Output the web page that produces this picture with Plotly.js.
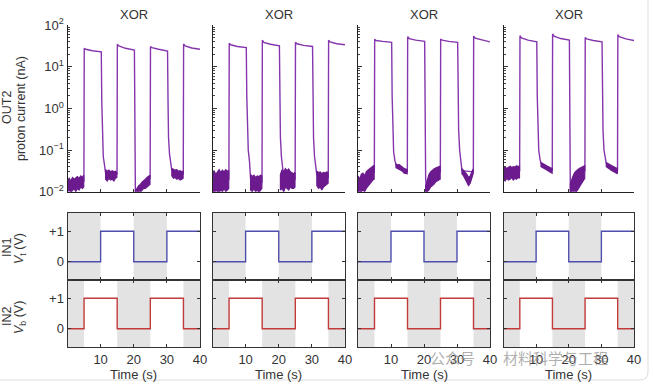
<!DOCTYPE html>
<html><head><meta charset="utf-8">
<script src="https://cdn.plot.ly/plotly-3.0.1.min.js"></script>
<style>html,body{margin:0;padding:0;background:#fff}#chart{width:653px;height:384px}</style>
</head><body><div id="chart"></div>
<script>
// ---------------- DATA ----------------
const panelTitles = ['XOR', 'XOR', 'XOR', 'XOR'];

// OUT2 proton current (nA) – main trace, shared time grid (s)
const tMain = [0, 4.95, 5.05, 5.5, 7.5, 10.2, 10.35, 10.5, 10.8, 11.2, 11.5, 14.95, 15.05, 15.5, 17.5,
  20.2, 20.35, 20.5, 20.8, 21.2, 21.5, 24.95, 25.05, 25.5, 27.5, 30.2, 30.35, 30.5, 30.8, 31.2, 31.5,
  34.95, 35.05, 35.5, 37.5, 40];
const out2Col1 = [0.015, 0.018, 28, 26.5, 24.5, 23, 1.5, 0.2, 0.07, 0.042, 0.028, 0.027, 35, 32, 28,
  25.5, 0.05, 0.008, 0.009, 0.010, 0.012, 0.021, 30.6, 29, 26.5, 24, 1.5, 0.2, 0.08, 0.048, 0.032,
  0.027, 35.5, 32, 28.5, 26.5];
const out2Col2 = [0.018, 0.02, 37, 34, 31, 29, 2, 0.3, 0.1, 0.05, 0.02, 0.017, 44, 39, 35,
  32, 1.5, 0.2, 0.07, 0.035, 0.022, 0.02, 39, 36, 33, 31, 1.5, 0.2, 0.07, 0.04, 0.025,
  0.022, 44, 40, 36, 34];
const out2Col3 = [0.015, 0.03, 46, 43, 41, 39, 2, 0.3, 0.09, 0.055, 0.045, 0.03, 53, 48, 44,
  41, 0.3, 0.02, 0.012, 0.015, 0.018, 0.03, 47, 44, 41, 39, 2, 0.3, 0.1, 0.055, 0.032,
  0.03, 55, 49, 44, 40];
const out2Col4 = [0.03, 0.032, 56, 50, 44, 40, 2, 0.3, 0.1, 0.06, 0.048, 0.032, 62, 55, 48,
  44, 0.5, 0.005, 0.012, 0.016, 0.02, 0.032, 51, 47, 43, 40, 2, 0.3, 0.1, 0.06, 0.048,
  0.032, 60, 53, 47, 43];

// Noisy low-state band: upper / lower envelope, shared time grid (null separates segments)
const bandT = [0, 0.5, 1, 1.5, 2, 2.5, 3, 3.5, 4, 4.5, 4.9, null,
  11.5, 12, 12.5, 13, 13.5, 14, 14.5, 14.9, null,
  20.5, 21, 21.5, 22, 22.5, 23, 23.5, 24, 24.5, 24.9, null,
  31.5, 32, 32.5, 33, 33.5, 34, 34.5, 34.9];
const bandHiCol1 = [0.019, 0.021, 0.018, 0.022, 0.020, 0.021, 0.023, 0.021, 0.024, 0.022, 0.025, null,
  0.034, 0.031, 0.033, 0.030, 0.032, 0.030, 0.031, 0.029, null,
  0.011, 0.012, 0.014, 0.015, 0.017, 0.018, 0.020, 0.022, 0.024, 0.025, null,
  0.036, 0.034, 0.033, 0.034, 0.031, 0.032, 0.030, 0.031];
const bandLoCol1 = [0.010, 0.011, 0.0095, 0.011, 0.012, 0.010, 0.012, 0.011, 0.013, 0.012, 0.013, null,
  0.020, 0.018, 0.021, 0.019, 0.020, 0.018, 0.021, 0.022, null,
  0.008, 0.008, 0.009, 0.010, 0.011, 0.012, 0.012, 0.013, 0.014, 0.015, null,
  0.024, 0.021, 0.022, 0.020, 0.021, 0.019, 0.020, 0.021];
const bandHiCol2 = [0.028, 0.032, 0.026, 0.031, 0.034, 0.029, 0.033, 0.030, 0.034, 0.031, 0.032, null,
  0.026, 0.023, 0.025, 0.022, 0.024, 0.023, 0.025, 0.024, null,
  0.026, 0.034, 0.030, 0.036, 0.032, 0.035, 0.030, 0.028, 0.027, 0.029, null,
  0.031, 0.029, 0.030, 0.027, 0.029, 0.028, 0.030, 0.029];
const bandLoCol2 = [0.010, 0.009, 0.011, 0.010, 0.0095, 0.011, 0.010, 0.012, 0.010, 0.011, 0.012, null,
  0.011, 0.010, 0.012, 0.010, 0.011, 0.0095, 0.011, 0.012, null,
  0.011, 0.012, 0.010, 0.013, 0.012, 0.011, 0.013, 0.012, 0.012, 0.013, null,
  0.014, 0.012, 0.013, 0.011, 0.013, 0.014, 0.015, 0.016];
const bandHiCol3 = [0.024, 0.020, 0.026, 0.028, 0.024, 0.030, 0.033, 0.036, 0.038, 0.041, 0.043, null,
  0.047, 0.044, 0.045, 0.041, 0.039, 0.036, 0.035, 0.034, null,
  0.014, 0.020, 0.026, 0.030, 0.033, 0.035, 0.037, 0.039, 0.040, 0.041, null,
  0.036, 0.032, 0.030, 0.026, 0.022, 0.024, 0.030, 0.035];
const bandLoCol3 = [0.010, 0.009, 0.010, 0.011, 0.010, 0.012, 0.013, 0.015, 0.017, 0.019, 0.020, null,
  0.038, 0.036, 0.035, 0.033, 0.031, 0.028, 0.027, 0.027, null,
  0.009, 0.010, 0.011, 0.013, 0.014, 0.015, 0.017, 0.018, 0.019, 0.020, null,
  0.027, 0.024, 0.020, 0.017, 0.014, 0.016, 0.021, 0.027];
const bandHiCol4 = [0.038, 0.040, 0.036, 0.039, 0.041, 0.038, 0.040, 0.039, 0.042, 0.040, 0.041, null,
  0.050, 0.047, 0.045, 0.043, 0.041, 0.039, 0.037, 0.036, null,
  0.016, 0.022, 0.026, 0.030, 0.033, 0.035, 0.037, 0.039, 0.040, 0.042, null,
  0.050, 0.047, 0.045, 0.043, 0.041, 0.039, 0.037, 0.036];
const bandLoCol4 = [0.020, 0.018, 0.021, 0.019, 0.020, 0.022, 0.019, 0.021, 0.020, 0.022, 0.021, null,
  0.040, 0.038, 0.036, 0.034, 0.032, 0.030, 0.029, 0.028, null,
  0.006, 0.007, 0.008, 0.009, 0.010, 0.012, 0.014, 0.017, 0.019, 0.021, null,
  0.040, 0.037, 0.035, 0.033, 0.031, 0.029, 0.028, 0.027];

// Inputs (step, value holds until next time)
const in1T = [0, 10, 20, 30, 40];
const in1V = [0, 1, 0, 1, 1];
const in2T = [0, 5, 15, 25, 35, 40];
const in2V = [0, 1, 0, 1, 0, 0];

// Tick labels
const xTickVals = [10, 20, 30, 40];
const xTickText = ['10', '20', '30', '40'];
const logTickVals = [0.01, 0.1, 1, 10, 100];
const logTickText = ['10<sup>−2</sup>', '10<sup>−1</sup>', '10<sup>0</sup>', '10<sup>1</sup>', '10<sup>2</sup>'];
const stepTickVals = [0, 1];
const stepTickText = ['0', '+1'];

// ---------------- BUILD ----------------
const W = 653, H = 384;
const FONT = 'Liberation Sans, Arial, sans-serif';
const TXT = '#333333';
const FS = 13;
const colsPx = [[67.5, 200], [212.5, 345], [358, 490], [503.5, 634]];
const rowsPx = [[25.3, 191.7], [213, 280], [280, 347]];
const out2 = [out2Col1, out2Col2, out2Col3, out2Col4];
const bandHi = [bandHiCol1, bandHiCol2, bandHiCol3, bandHiCol4];
const bandLo = [bandLoCol1, bandLoCol2, bandLoCol3, bandLoCol4];

const minorLog = [];
for (let k = -2; k < 2; k++) for (let m = 2; m <= 9; m++) minorLog.push(m * Math.pow(10, k));

function bandPolygon(t, hi, lo) {
  const px = [], py = [];
  let seg = [];
  const flush = () => {
    if (!seg.length) return;
    seg.forEach(i => { px.push(t[i]); py.push(hi[i]); });
    seg.slice().reverse().forEach(i => { px.push(t[i]); py.push(lo[i]); });
    px.push(t[seg[0]]); py.push(hi[seg[0]]);
    px.push(null); py.push(null);
    seg = [];
  };
  for (let i = 0; i < t.length; i++) { if (t[i] === null) flush(); else seg.push(i); }
  flush();
  return { x: px, y: py };
}

const traces = [];
const layout = {
  width: W, height: H, margin: { l: 0, r: 0, t: 0, b: 0 },
  paper_bgcolor: '#ffffff', plot_bgcolor: 'rgba(0,0,0,0)',
  showlegend: false, font: { family: FONT, size: FS, color: TXT },
  shapes: [], annotations: []
};

// card border (rounded bottom-right corner)
layout.shapes.push({ type: 'path', xref: 'paper', yref: 'paper', layer: 'below',
  path: `M ${648 / W} 1 L ${648 / W} ${1 - 372 / H} Q ${648 / W} ${1 - 380 / H} ${640 / W} ${1 - 380 / H} L 0 ${1 - 380 / H}`,
  line: { color: '#dddddd', width: 1 } });

for (let row = 0; row < 3; row++) {
  for (let col = 0; col < 4; col++) {
    const n = row * 4 + col + 1;
    const xs = n === 1 ? '' : String(n);
    const xd = [colsPx[col][0] / W, colsPx[col][1] / W];
    const yd = [1 - rowsPx[row][1] / H, 1 - rowsPx[row][0] / H];
    const xa = {
      domain: xd, anchor: 'y' + xs, range: [0, 40], showgrid: false, zeroline: false,
      showline: true, linecolor: row === 0 ? '#222' : '#333', linewidth: 1,
      ticks: 'inside', ticklen: 3, tickcolor: '#333',
      tickmode: 'array', tickvals: row === 0 ? [10, 20, 30] : xTickVals, ticktext: row === 0 ? ['10','20','30'] : xTickText,
      showticklabels: row === 2, tickfont: { family: FONT, size: FS, color: TXT },
      mirror: row === 0 ? false : 'ticks', fixedrange: true
    };
    let ya;
    if (row === 0) {
      ya = {
        domain: yd, anchor: 'x' + xs, type: 'log', range: [-2, 2], showgrid: false, zeroline: false,
        showline: true, linecolor: '#222', linewidth: 1, ticks: 'inside', ticklen: 4, tickcolor: '#333',
        tickmode: 'array', tickvals: logTickVals, ticktext: logTickText,
        showticklabels: col === 0, tickfont: { family: FONT, size: FS, color: TXT },
        minor: { tickmode: 'array', tickvals: minorLog, ticks: 'inside', ticklen: 2, tickcolor: '#444' },
        fixedrange: true
      };
    } else {
      ya = {
        domain: yd, anchor: 'x' + xs, range: [-0.6, 1.6], showgrid: false, zeroline: false,
        showline: true, linecolor: '#333', linewidth: 1, ticks: 'inside', ticklen: 3, tickcolor: '#333',
        tickmode: 'array', tickvals: stepTickVals, ticktext: stepTickText,
        showticklabels: col === 0, tickfont: { family: FONT, size: FS, color: TXT },
        mirror: 'ticks', fixedrange: true
      };
    }
    layout['xaxis' + xs] = xa;
    layout['yaxis' + xs] = ya;

    if (row === 0) {
      traces.push({ x: tMain, y: out2[col], xaxis: 'x' + xs, yaxis: 'y' + xs, mode: 'lines',
        line: { color: '#8535ad', width: 1.4 }, hoverinfo: 'skip' });
      const poly = bandPolygon(bandT, bandHi[col], bandLo[col]);
      traces.push({ x: poly.x, y: poly.y, xaxis: 'x' + xs, yaxis: 'y' + xs, mode: 'lines',
        fill: 'toself', fillcolor: '#6c1b8e', line: { color: '#6c1b8e', width: 1.2 }, connectgaps: false, hoverinfo: 'skip' });
    } else {
      const T = row === 1 ? in1T : in2T, V = row === 1 ? in1V : in2V;
      for (let i = 0; i < T.length - 1; i++) {
        if (V[i] === 0) layout.shapes.push({ type: 'rect', xref: 'x' + xs, yref: 'y' + xs + ' domain',
          x0: T[i], x1: T[i + 1], y0: 0, y1: 1, fillcolor: '#e3e3e3', line: { width: 0 }, layer: 'below' });
      }
      traces.push({ x: T, y: V, xaxis: 'x' + xs, yaxis: 'y' + xs, mode: 'lines',
        line: { shape: 'hv', color: row === 1 ? '#4e4eae' : '#c23a3a', width: 1.4 }, hoverinfo: 'skip' });
    }
  }
}

// Titles and labels
for (let col = 0; col < 4; col++) {
  const cx = (colsPx[col][0] + colsPx[col][1]) / 2 / W;
  layout.annotations.push({ text: panelTitles[col], x: cx, y: 1 - 14 / H, xref: 'paper', yref: 'paper',
    showarrow: false, font: { family: FONT, size: FS, color: TXT }, xanchor: 'center', yanchor: 'middle' });
  layout.annotations.push({ text: 'Time (s)', x: cx, y: 1 - 374 / H, xref: 'paper', yref: 'paper',
    showarrow: false, font: { family: FONT, size: FS, color: TXT }, xanchor: 'center', yanchor: 'middle' });
}
const sideLabels = [
  ['OUT2', 7, 108], ['proton current (nA)', 21, 109],
  ['IN1', 7, 247], ['<i>V</i><sub>t</sub> (V)', 20, 249],
  ['IN2', 7, 316], ['<i>V</i><sub>b</sub> (V)', 20, 318]
];
sideLabels.forEach(s => layout.annotations.push({ text: s[0], x: s[1] / W, y: 1 - s[2] / H, xref: 'paper', yref: 'paper',
  showarrow: false, textangle: -90, font: { family: FONT, size: 12.5, color: TXT }, xanchor: 'center', yanchor: 'middle' }));

// watermark (overlaps the tick labels, as in the source image)
layout.annotations.push({ text: '公众号', x: 452 / W, y: 1 - 357 / H, xref: 'paper', yref: 'paper', showarrow: false,
  font: { family: 'Noto Sans CJK SC', size: 15, color: 'rgba(140,140,140,0.7)' }, xanchor: 'center', yanchor: 'middle' });
layout.annotations.push({ text: '材料科学与工程', x: 555 / W, y: 1 - 357 / H, xref: 'paper', yref: 'paper', showarrow: false,
  font: { family: 'Noto Sans CJK SC', size: 15, color: 'rgba(140,140,140,0.7)' }, xanchor: 'center', yanchor: 'middle' });

Plotly.newPlot('chart', traces, layout, { staticPlot: true, displayModeBar: false });
</script></body></html>
